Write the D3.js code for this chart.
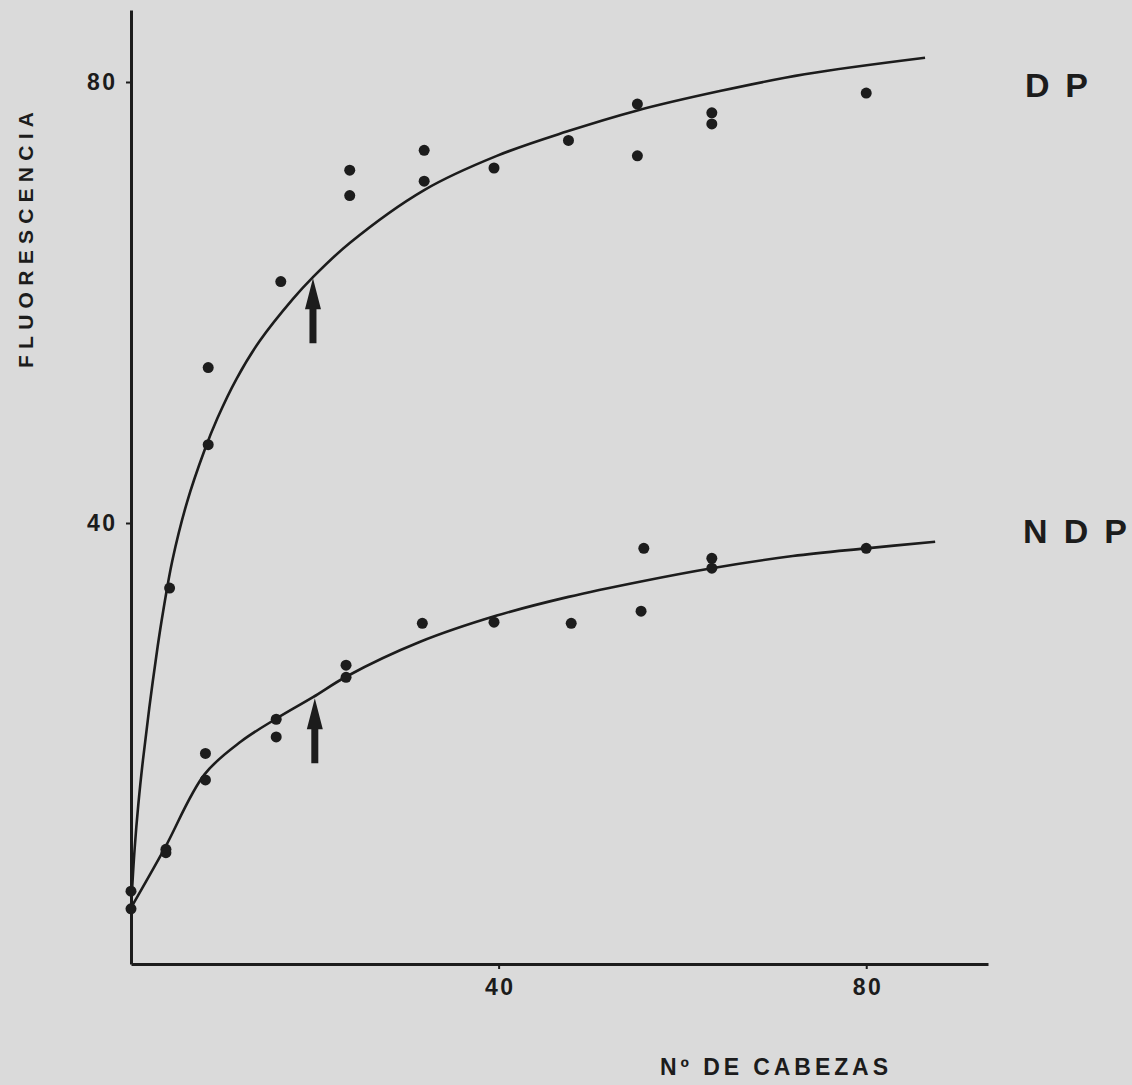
<!DOCTYPE html>
<html>
<head>
<meta charset="utf-8">
<script src="https://cdnjs.cloudflare.com/ajax/libs/d3/7.8.5/d3.min.js"></script>
<style>
  body { margin: 0; background: #dadada; }
  .chart text { font-family: "Liberation Sans", Arial, sans-serif; font-weight: bold; fill: #1c1c1c; }
</style>
</head>
<body>
<div class="chart"></div>
<script>
var svgWidth = 1132;
var svgHeight = 1085;

// measured points, Nº de cabezas vs fluorescencia
var dpX = [0, 4.2, 8.4, 8.4, 16.3, 23.8, 23.8, 31.9, 31.9, 39.5, 47.6, 55.1, 55.1, 63.2, 63.2, 80];
var dpY = [6.6, 34.1, 47.1, 54.1, 61.9, 69.7, 72.0, 71.0, 73.8, 72.2, 74.7, 78.0, 73.3, 77.2, 76.2, 79.0];

var ndpX = [0, 3.8, 3.8, 8.1, 8.1, 15.8, 15.8, 23.4, 23.4, 31.7, 39.5, 47.9, 55.5, 55.8, 63.2, 63.2, 80];
var ndpY = [5.0, 10.4, 10.1, 19.1, 16.7, 22.2, 20.6, 27.1, 26.0, 30.9, 31.0, 30.9, 32.0, 37.7, 36.8, 35.9, 37.7];

// hand-drawn fitted curves
var dpCurveX = [0, 0.4, 0.8, 1.3, 2.0, 2.9, 3.5, 4.5, 6.1, 8.0, 9.4, 11.5, 14, 17.6, 19.8, 23.8, 31.9, 39.8, 47.4, 55, 64.2, 73.3, 86.4];
var dpCurveY = [5.1, 10.5, 14.5, 18.5, 23.3, 28.8, 32.0, 36.6, 41.9, 46.6, 49.5, 53.1, 56.5, 60.3, 62.3, 65.4, 70.2, 73.3, 75.5, 77.4, 79.2, 80.7, 82.2];

var ndpCurveX = [0, 3.6, 8.0, 12, 15.9, 19.8, 23.5, 31.4, 39.8, 47.6, 55.5, 63.2, 72, 80, 87.5];
var ndpCurveY = [5.1, 10.4, 17.2, 20.2, 22.3, 24.2, 26.1, 29.2, 31.6, 33.3, 34.7, 35.9, 37.0, 37.7, 38.3];

// arrows (x, tip height)
var arrowX = [19.8, 20.0];
var arrowY = [62.2, 24.1];

var xTicks = [40, 80];
var yTicks = [40, 80];

var svg = d3.select(".chart")
  .append("svg")
    .attr("width", svgWidth)
    .attr("height", svgHeight);

var chart = svg.append("g");

var xLinearScale = d3.scaleLinear().domain([0, 93.25]).range([131, 988]);
var yLinearScale = d3.scaleLinear().domain([0, 86.53]).range([964, 10]);

var ink = "#1c1c1c";

var bottomAxis = d3.axisBottom(xLinearScale)
  .tickValues(xTicks)
  .tickSize(5)
  .tickSizeOuter(0)
  .tickPadding(10)
  .tickFormat(d3.format("d"));

var leftAxis = d3.axisLeft(yLinearScale)
  .tickValues(yTicks)
  .tickSize(5)
  .tickSizeOuter(0)
  .tickPadding(11)
  .tickFormat(d3.format("d"));

var xg = chart.append("g")
  .attr("transform", "translate(0," + yLinearScale(0) + ")")
  .call(bottomAxis);

var yg = chart.append("g")
  .attr("transform", "translate(" + xLinearScale(0) + ",0)")
  .call(leftAxis);

[xg, yg].forEach(function(g) {
  g.select(".domain").attr("stroke", ink).attr("stroke-width", 3);
  g.selectAll(".tick line").attr("stroke", ink).attr("stroke-width", 2);
  g.selectAll(".tick text")
    .attr("fill", ink)
    .attr("textLength", 28)
    .style("font-size", "23px");
});

// curves
var line = d3.line()
  .x(function(d) { return xLinearScale(d[0]); })
  .y(function(d) { return yLinearScale(d[1]); })
  .curve(d3.curveCatmullRom.alpha(0.5));

var curves = [d3.zip(dpCurveX, dpCurveY), d3.zip(ndpCurveX, ndpCurveY)];

chart.selectAll(".fit")
  .data(curves)
  .enter().append("path")
    .attr("class", "fit")
    .attr("d", line)
    .attr("fill", "none")
    .attr("stroke", ink)
    .attr("stroke-width", 2.6);

// points
var points = d3.zip(dpX, dpY).concat(d3.zip(ndpX, ndpY));

chart.selectAll("circle")
  .data(points)
  .enter().append("circle")
    .attr("cx", function(d) { return xLinearScale(d[0]); })
    .attr("cy", function(d) { return yLinearScale(d[1]); })
    .attr("r", 5.5)
    .attr("fill", ink);

// arrows
chart.selectAll(".arrow")
  .data(d3.zip(arrowX, arrowY))
  .enter().append("path")
    .attr("class", "arrow")
    .attr("d", function(d) {
      var x = xLinearScale(d[0]);
      var y = yLinearScale(d[1]);
      return "M" + x + "," + y +
        "L" + (x + 8) + "," + (y + 31) +
        "L" + (x + 3.5) + "," + (y + 31) +
        "L" + (x + 3.5) + "," + (y + 65) +
        "L" + (x - 3.5) + "," + (y + 65) +
        "L" + (x - 3.5) + "," + (y + 31) +
        "L" + (x - 8) + "," + (y + 31) + "Z";
    })
    .attr("fill", ink);

// series labels
chart.append("text")
  .attr("x", 1025)
  .attr("y", 97)
  .attr("textLength", 63)
  .style("font-size", "34px")
  .text("DP");

chart.append("text")
  .attr("x", 1023)
  .attr("y", 543)
  .attr("textLength", 104)
  .style("font-size", "34px")
  .text("NDP");

// axis titles
chart.append("text")
  .attr("transform", "translate(33,240) rotate(-90)")
  .attr("text-anchor", "middle")
  .attr("textLength", 256)
  .style("font-size", "21px")
  .text("FLUORESCENCIA");

chart.append("text")
  .attr("x", 660)
  .attr("y", 1075)
  .attr("textLength", 228)
  .style("font-size", "23px")
  .text("Nº DE CABEZAS");
</script>
</body>
</html>
